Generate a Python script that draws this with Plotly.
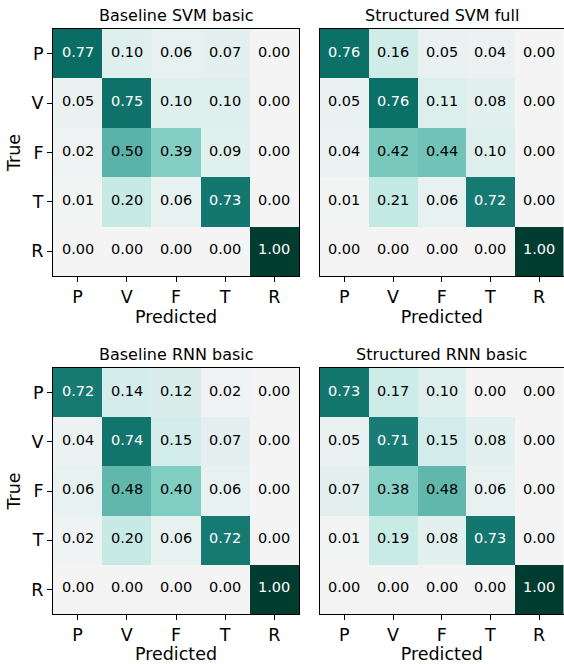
import plotly.graph_objects as go

labels = ["P", "V", "F", "T", "R"]

titles = ["Baseline SVM basic", "Structured SVM full", "Baseline RNN basic", "Structured RNN basic"]

baseline_svm_basic = [
    [0.77, 0.10, 0.06, 0.07, 0.00],
    [0.05, 0.75, 0.10, 0.10, 0.00],
    [0.02, 0.50, 0.39, 0.09, 0.00],
    [0.01, 0.20, 0.06, 0.73, 0.00],
    [0.00, 0.00, 0.00, 0.00, 1.00],
]
structured_svm_full = [
    [0.76, 0.16, 0.05, 0.04, 0.00],
    [0.05, 0.76, 0.11, 0.08, 0.00],
    [0.04, 0.42, 0.44, 0.10, 0.00],
    [0.01, 0.21, 0.06, 0.72, 0.00],
    [0.00, 0.00, 0.00, 0.00, 1.00],
]
baseline_rnn_basic = [
    [0.72, 0.14, 0.12, 0.02, 0.00],
    [0.04, 0.74, 0.15, 0.07, 0.00],
    [0.06, 0.48, 0.40, 0.06, 0.00],
    [0.02, 0.20, 0.06, 0.72, 0.00],
    [0.00, 0.00, 0.00, 0.00, 1.00],
]
structured_rnn_basic = [
    [0.73, 0.17, 0.10, 0.00, 0.00],
    [0.05, 0.71, 0.15, 0.08, 0.00],
    [0.07, 0.38, 0.48, 0.06, 0.00],
    [0.01, 0.19, 0.08, 0.73, 0.00],
    [0.00, 0.00, 0.00, 0.00, 1.00],
]

matrices = [baseline_svm_basic, structured_svm_full, baseline_rnn_basic, structured_rnn_basic]

colorscale = [
    [0.0, "#f4f4f4"], [0.2, "#c7eae5"], [0.4, "#80cdc1"],
    [0.6, "#35978f"], [0.8, "#01665e"], [1.0, "#003c30"],
]

W, H = 564, 664
# panel boxes in pixels: (left, right, top, bottom)
boxes = [
    (53, 299, 29, 276),
    (320, 563.5, 29, 276),
    (53, 299, 368, 614),
    (320, 563.5, 368, 614),
]

FONT = "DejaVu Sans"
fig = go.Figure()
annotations = []

for i, (mat, title, box) in enumerate(zip(matrices, titles, boxes)):
    n = i + 1
    xa = "x" if n == 1 else f"x{n}"
    ya = "y" if n == 1 else f"y{n}"
    fig.add_trace(go.Heatmap(
        z=mat, x=labels, y=labels, xaxis=xa, yaxis=ya,
        colorscale=colorscale, zmin=0, zmax=1, showscale=False,
        hoverinfo="skip",
    ))
    for r, row in enumerate(mat):
        for c, v in enumerate(row):
            annotations.append(dict(
                x=labels[c], y=labels[r], xref=xa, yref=ya,
                text=f"{v:.2f}", showarrow=False, yshift=2,
                font=dict(family=FONT, size=14.5, color="white" if v > 0.5 else "black"),
            ))
    l, rr, t, b = box
    xd = [l / W, min(rr / W, 1.0)]
    yd = [1 - b / H, 1 - t / H]
    left_col = (i % 2 == 0)
    xkey = "xaxis" if n == 1 else f"xaxis{n}"
    ykey = "yaxis" if n == 1 else f"yaxis{n}"
    fig.update_layout({
        xkey: dict(
            domain=xd, anchor=ya, type="category", automargin=False,
            showline=True, mirror=True, linecolor="black", linewidth=1,
            ticks="outside", ticklen=5, tickcolor="black", tickwidth=1,
            tickfont=dict(family=FONT, size=17.5, color="black"),
            title=dict(text="Predicted", font=dict(family=FONT, size=17.5, color="black"), standoff=3),
            showgrid=False, zeroline=False, fixedrange=True,
        ),
        ykey: dict(
            domain=yd, anchor=xa, type="category", autorange="reversed", automargin=False,
            showline=True, mirror=True, linecolor="black", linewidth=1,
            ticks="outside" if left_col else "", ticklen=5, tickcolor="black", tickwidth=1,
            showticklabels=left_col,
            tickfont=dict(family=FONT, size=17.5, color="black"),
            title=dict(text="True" if left_col else "", font=dict(family=FONT, size=17.5, color="black"), standoff=6),
            showgrid=False, zeroline=False, fixedrange=True,
        ),
    })
    annotations.append(dict(
        x=(xd[0] + xd[1]) / 2, y=yd[1], xref="paper", yref="paper",
        xanchor="center", yanchor="bottom", yshift=2, showarrow=False, text=title,
        font=dict(family=FONT, size=16, color="black"),
    ))

fig.update_layout(
    width=W, height=H,
    margin=dict(l=0, r=0, t=0, b=0),
    paper_bgcolor="white", plot_bgcolor="white",
    annotations=annotations,
    showlegend=False,
)

fig.write_html(
    "out.html",
    config={"displayModeBar": False},
    post_script="document.body.style.margin='0';document.body.style.overflow='hidden';",
)
